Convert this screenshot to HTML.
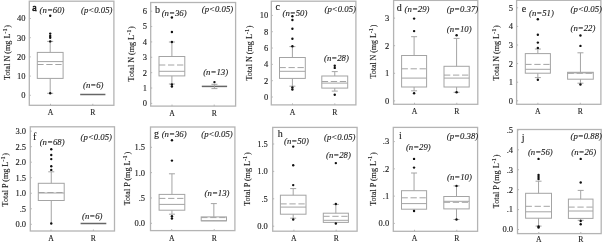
<!DOCTYPE html>
<html><head><meta charset="utf-8"><style>
html,body{margin:0;padding:0;background:#fff;}
svg{display:block;filter:grayscale(1);}
text{font-family:"Liberation Serif",serif;fill:#1a1a1a;stroke:#1a1a1a;stroke-width:0.12px;}
.t{font-size:8.5px;}
.a{font-size:8.75px;font-style:italic;}
.l{font-size:10px;}
.lb{stroke-width:0.6px;}
.x{font-size:7.7px;}
</style></head><body>
<svg width="602" height="242" viewBox="0 0 602 242">
<rect width="602" height="242" fill="#fff"/>
<rect x="29.3" y="1.2" width="84.6" height="104.1" fill="none" stroke="#b4b4b4" stroke-width="1.3"/>
<line x1="29.3" x2="30.8" y1="95.3" y2="95.3" stroke="#b4b4b4" stroke-width="1"/>
<text x="25.6" y="98.2" text-anchor="end" class="t">0</text>
<line x1="29.3" x2="30.8" y1="76.1" y2="76.1" stroke="#b4b4b4" stroke-width="1"/>
<text x="25.6" y="79" text-anchor="end" class="t">10</text>
<line x1="29.3" x2="30.8" y1="56.9" y2="56.9" stroke="#b4b4b4" stroke-width="1"/>
<text x="25.6" y="59.8" text-anchor="end" class="t">20</text>
<line x1="29.3" x2="30.8" y1="37.7" y2="37.7" stroke="#b4b4b4" stroke-width="1"/>
<text x="25.6" y="40.6" text-anchor="end" class="t">30</text>
<line x1="29.3" x2="30.8" y1="18.5" y2="18.5" stroke="#b4b4b4" stroke-width="1"/>
<text x="25.6" y="21.4" text-anchor="end" class="t">40</text>
<rect x="37.3" y="52.4" width="25.8" height="26" fill="none" stroke="#a4a4a4" stroke-width="1.0"/>
<line x1="37.3" x2="63.1" y1="61.6" y2="61.6" stroke="#a4a4a4" stroke-width="1.0"/>
<line x1="37.3" x2="63.1" y1="64.5" y2="64.5" stroke="#a4a4a4" stroke-width="1.0" stroke-dasharray="6.3 2.7"/>
<line x1="50.2" x2="50.2" y1="41.4" y2="52.4" stroke="#a4a4a4" stroke-width="1.0"/>
<line x1="50.2" x2="50.2" y1="78.4" y2="93.3" stroke="#a4a4a4" stroke-width="1.0"/>
<line x1="47.2" x2="53.2" y1="41.4" y2="41.4" stroke="#a4a4a4" stroke-width="1.0"/>
<line x1="47.2" x2="53.2" y1="93.3" y2="93.3" stroke="#a4a4a4" stroke-width="1.0"/>
<circle cx="50.2" cy="15.8" r="1.2" fill="#111"/>
<circle cx="50.2" cy="33.6" r="1.2" fill="#111"/>
<circle cx="50.2" cy="36" r="1.2" fill="#111"/>
<circle cx="50.2" cy="37.8" r="1.2" fill="#111"/>
<circle cx="50.2" cy="41.4" r="1.2" fill="#111"/>
<circle cx="50.2" cy="93.3" r="1.2" fill="#111"/>
<line x1="80.2" x2="105.4" y1="94.5" y2="94.5" stroke="#666" stroke-width="1.5"/>
<text x="32.3" y="10.7" class="l lb">a</text>
<text x="39.6" y="13.2" class="a">(n=60)</text>
<text x="81" y="12.8" class="a">(p<0.05)</text>
<text x="83" y="88" class="a">(n=6)</text>
<line x1="50.5" x2="50.5" y1="103.8" y2="105.3" stroke="#b4b4b4" stroke-width="1"/>
<line x1="92.8" x2="92.8" y1="103.8" y2="105.3" stroke="#b4b4b4" stroke-width="1"/>
<text x="50.5" y="115" text-anchor="middle" class="x">A</text>
<text x="92.8" y="115" text-anchor="middle" class="x">R</text>
<text transform="translate(9.8,52.5) rotate(-90)" text-anchor="middle" style="font-size:8.1px">Total N (mg L<tspan dy="-3.3" font-size="6.3">-1</tspan><tspan dy="3.3" dx="0.8">)</tspan></text>
<rect x="150.7" y="2.5" width="84.9" height="103.6" fill="none" stroke="#b4b4b4" stroke-width="1.3"/>
<line x1="150.7" x2="152.2" y1="103.4" y2="103.4" stroke="#b4b4b4" stroke-width="1"/>
<text x="147.1" y="106.3" text-anchor="end" class="t">0</text>
<line x1="150.7" x2="152.2" y1="88.03" y2="88.03" stroke="#b4b4b4" stroke-width="1"/>
<text x="147.1" y="90.93" text-anchor="end" class="t">1</text>
<line x1="150.7" x2="152.2" y1="72.66" y2="72.66" stroke="#b4b4b4" stroke-width="1"/>
<text x="147.1" y="75.56" text-anchor="end" class="t">2</text>
<line x1="150.7" x2="152.2" y1="57.29" y2="57.29" stroke="#b4b4b4" stroke-width="1"/>
<text x="147.1" y="60.19" text-anchor="end" class="t">3</text>
<line x1="150.7" x2="152.2" y1="41.92" y2="41.92" stroke="#b4b4b4" stroke-width="1"/>
<text x="147.1" y="44.82" text-anchor="end" class="t">4</text>
<line x1="150.7" x2="152.2" y1="26.55" y2="26.55" stroke="#b4b4b4" stroke-width="1"/>
<text x="147.1" y="29.45" text-anchor="end" class="t">5</text>
<line x1="150.7" x2="152.2" y1="11.18" y2="11.18" stroke="#b4b4b4" stroke-width="1"/>
<text x="147.1" y="14.08" text-anchor="end" class="t">6</text>
<rect x="159" y="56.5" width="25.8" height="19.4" fill="none" stroke="#a4a4a4" stroke-width="1.0"/>
<line x1="159" x2="184.8" y1="71.3" y2="71.3" stroke="#a4a4a4" stroke-width="1.0"/>
<line x1="159" x2="184.8" y1="65" y2="65" stroke="#a4a4a4" stroke-width="1.0" stroke-dasharray="6.3 2.7"/>
<line x1="171.9" x2="171.9" y1="42" y2="56.5" stroke="#a4a4a4" stroke-width="1.0"/>
<line x1="171.9" x2="171.9" y1="75.9" y2="84" stroke="#a4a4a4" stroke-width="1.0"/>
<line x1="168.9" x2="174.9" y1="42" y2="42" stroke="#a4a4a4" stroke-width="1.0"/>
<line x1="168.9" x2="174.9" y1="84" y2="84" stroke="#a4a4a4" stroke-width="1.0"/>
<circle cx="171.9" cy="17.5" r="1.2" fill="#111"/>
<circle cx="171.9" cy="32" r="1.2" fill="#111"/>
<circle cx="171.9" cy="42" r="1.2" fill="#111"/>
<circle cx="171.9" cy="84.5" r="1.2" fill="#111"/>
<circle cx="171.9" cy="86.5" r="1.2" fill="#111"/>
<line x1="201.8" x2="227.1" y1="86.4" y2="86.4" stroke="#666" stroke-width="1.5"/>
<line x1="214.45" x2="214.45" y1="84.3" y2="86.4" stroke="#a4a4a4" stroke-width="1.0"/>
<line x1="214.45" x2="214.45" y1="86.4" y2="88.6" stroke="#a4a4a4" stroke-width="1.0"/>
<line x1="211.45" x2="217.45" y1="84.3" y2="84.3" stroke="#a4a4a4" stroke-width="1.0"/>
<line x1="211.45" x2="217.45" y1="88.6" y2="88.6" stroke="#a4a4a4" stroke-width="1.0"/>
<circle cx="214.45" cy="82.1" r="1.2" fill="#111"/>
<text x="155" y="12.6" class="l">b</text>
<text x="161.7" y="15.5" class="a">(n=36)</text>
<text x="201.8" y="11.8" class="a">(p<0.05)</text>
<text x="203.2" y="74.5" class="a">(n=13)</text>
<line x1="172" x2="172" y1="104.6" y2="106.1" stroke="#b4b4b4" stroke-width="1"/>
<line x1="214.2" x2="214.2" y1="104.6" y2="106.1" stroke="#b4b4b4" stroke-width="1"/>
<text x="172" y="115.8" text-anchor="middle" class="x">A</text>
<text x="214.2" y="115.8" text-anchor="middle" class="x">R</text>
<text transform="translate(133.8,53.8) rotate(-90)" text-anchor="middle" style="font-size:8.1px">Total N (mg L<tspan dy="-3.3" font-size="6.3">-1</tspan><tspan dy="3.3" dx="0.8">)</tspan></text>
<rect x="271.3" y="1.2" width="84.6" height="103.7" fill="none" stroke="#b4b4b4" stroke-width="1.3"/>
<line x1="271.3" x2="272.8" y1="97" y2="97" stroke="#b4b4b4" stroke-width="1"/>
<text x="268.2" y="99.9" text-anchor="end" class="t">0</text>
<line x1="271.3" x2="272.8" y1="80.68" y2="80.68" stroke="#b4b4b4" stroke-width="1"/>
<text x="268.2" y="83.58" text-anchor="end" class="t">2</text>
<line x1="271.3" x2="272.8" y1="64.36" y2="64.36" stroke="#b4b4b4" stroke-width="1"/>
<text x="268.2" y="67.26" text-anchor="end" class="t">4</text>
<line x1="271.3" x2="272.8" y1="48.04" y2="48.04" stroke="#b4b4b4" stroke-width="1"/>
<text x="268.2" y="50.94" text-anchor="end" class="t">6</text>
<line x1="271.3" x2="272.8" y1="31.72" y2="31.72" stroke="#b4b4b4" stroke-width="1"/>
<text x="268.2" y="34.62" text-anchor="end" class="t">8</text>
<line x1="271.3" x2="272.8" y1="15.4" y2="15.4" stroke="#b4b4b4" stroke-width="1"/>
<text x="268.2" y="18.3" text-anchor="end" class="t">10</text>
<rect x="279.5" y="57.5" width="25.8" height="20.9" fill="none" stroke="#a4a4a4" stroke-width="1.0"/>
<line x1="279.5" x2="305.3" y1="71.3" y2="71.3" stroke="#a4a4a4" stroke-width="1.0"/>
<line x1="279.5" x2="305.3" y1="67.6" y2="67.6" stroke="#a4a4a4" stroke-width="1.0" stroke-dasharray="6.3 2.7"/>
<line x1="292.4" x2="292.4" y1="46.6" y2="57.5" stroke="#a4a4a4" stroke-width="1.0"/>
<line x1="292.4" x2="292.4" y1="78.4" y2="86.2" stroke="#a4a4a4" stroke-width="1.0"/>
<line x1="289.4" x2="295.4" y1="46.6" y2="46.6" stroke="#a4a4a4" stroke-width="1.0"/>
<line x1="289.4" x2="295.4" y1="86.2" y2="86.2" stroke="#a4a4a4" stroke-width="1.0"/>
<circle cx="292.4" cy="16.3" r="1.2" fill="#111"/>
<circle cx="292.4" cy="20" r="1.2" fill="#111"/>
<circle cx="292.4" cy="28.8" r="1.2" fill="#111"/>
<circle cx="292.4" cy="38.7" r="1.2" fill="#111"/>
<circle cx="292.4" cy="46.3" r="1.2" fill="#111"/>
<circle cx="292.4" cy="87.5" r="1.2" fill="#111"/>
<circle cx="292.4" cy="89.5" r="1.2" fill="#111"/>
<rect x="321.8" y="76" width="25.9" height="12.1" fill="none" stroke="#a4a4a4" stroke-width="1.0"/>
<line x1="321.8" x2="347.7" y1="83.1" y2="83.1" stroke="#a4a4a4" stroke-width="1.0"/>
<line x1="321.8" x2="347.7" y1="81.5" y2="81.5" stroke="#a4a4a4" stroke-width="1.0" stroke-dasharray="6.3 2.7"/>
<line x1="334.75" x2="334.75" y1="71.6" y2="76" stroke="#a4a4a4" stroke-width="1.0"/>
<line x1="334.75" x2="334.75" y1="88.1" y2="91.1" stroke="#a4a4a4" stroke-width="1.0"/>
<line x1="331.75" x2="337.75" y1="71.6" y2="71.6" stroke="#a4a4a4" stroke-width="1.0"/>
<line x1="331.75" x2="337.75" y1="91.1" y2="91.1" stroke="#a4a4a4" stroke-width="1.0"/>
<circle cx="334.75" cy="65.8" r="1.2" fill="#111"/>
<circle cx="334.75" cy="67.9" r="1.2" fill="#111"/>
<circle cx="334.75" cy="94.7" r="1.2" fill="#111"/>
<text x="275.6" y="10.4" class="l">c</text>
<text x="282.5" y="15.5" class="a">(n=50)</text>
<text x="324.5" y="11.8" class="a">(p<0.05)</text>
<text x="324" y="61" class="a">(n=28)</text>
<line x1="292.5" x2="292.5" y1="103.4" y2="104.9" stroke="#b4b4b4" stroke-width="1"/>
<line x1="334.8" x2="334.8" y1="103.4" y2="104.9" stroke="#b4b4b4" stroke-width="1"/>
<text x="292.5" y="114.8" text-anchor="middle" class="x">A</text>
<text x="334.8" y="114.8" text-anchor="middle" class="x">R</text>
<text transform="translate(251.9,53) rotate(-90)" text-anchor="middle" style="font-size:8.1px">Total N (mg L<tspan dy="-3.3" font-size="6.3">-1</tspan><tspan dy="3.3" dx="0.8">)</tspan></text>
<rect x="393.6" y="0.4" width="84.2" height="103.9" fill="none" stroke="#b4b4b4" stroke-width="1.3"/>
<line x1="393.6" x2="395.1" y1="100.9" y2="100.9" stroke="#b4b4b4" stroke-width="1"/>
<text x="389.3" y="103.8" text-anchor="end" class="t">0</text>
<line x1="393.6" x2="395.1" y1="73.3" y2="73.3" stroke="#b4b4b4" stroke-width="1"/>
<text x="389.3" y="76.2" text-anchor="end" class="t">1</text>
<line x1="393.6" x2="395.1" y1="45.7" y2="45.7" stroke="#b4b4b4" stroke-width="1"/>
<text x="389.3" y="48.6" text-anchor="end" class="t">2</text>
<line x1="393.6" x2="395.1" y1="18.1" y2="18.1" stroke="#b4b4b4" stroke-width="1"/>
<text x="389.3" y="21" text-anchor="end" class="t">3</text>
<rect x="401.6" y="55.5" width="25" height="31.5" fill="none" stroke="#a4a4a4" stroke-width="1.0"/>
<line x1="401.6" x2="426.6" y1="78.1" y2="78.1" stroke="#a4a4a4" stroke-width="1.0"/>
<line x1="401.6" x2="426.6" y1="68.8" y2="68.8" stroke="#a4a4a4" stroke-width="1.0" stroke-dasharray="6.3 2.7"/>
<line x1="414.1" x2="414.1" y1="36.7" y2="55.5" stroke="#a4a4a4" stroke-width="1.0"/>
<line x1="414.1" x2="414.1" y1="87" y2="90.8" stroke="#a4a4a4" stroke-width="1.0"/>
<line x1="411.1" x2="417.1" y1="36.7" y2="36.7" stroke="#a4a4a4" stroke-width="1.0"/>
<line x1="411.1" x2="417.1" y1="90.8" y2="90.8" stroke="#a4a4a4" stroke-width="1.0"/>
<circle cx="414.1" cy="18.6" r="1.2" fill="#111"/>
<circle cx="414.1" cy="31.1" r="1.2" fill="#111"/>
<circle cx="414.1" cy="93.3" r="1.2" fill="#111"/>
<rect x="444" y="66.3" width="25.2" height="20.7" fill="none" stroke="#a4a4a4" stroke-width="1.0"/>
<line x1="444" x2="469.2" y1="78.1" y2="78.1" stroke="#a4a4a4" stroke-width="1.0"/>
<line x1="444" x2="469.2" y1="75.1" y2="75.1" stroke="#a4a4a4" stroke-width="1.0" stroke-dasharray="6.3 2.7"/>
<line x1="456.6" x2="456.6" y1="38.4" y2="66.3" stroke="#a4a4a4" stroke-width="1.0"/>
<line x1="456.6" x2="456.6" y1="87" y2="92.3" stroke="#a4a4a4" stroke-width="1.0"/>
<line x1="453.6" x2="459.6" y1="38.4" y2="38.4" stroke="#a4a4a4" stroke-width="1.0"/>
<line x1="453.6" x2="459.6" y1="92.3" y2="92.3" stroke="#a4a4a4" stroke-width="1.0"/>
<circle cx="456.6" cy="35.2" r="1.2" fill="#111"/>
<circle cx="456.6" cy="92.3" r="1.2" fill="#111"/>
<text x="396.7" y="11" class="l">d</text>
<text x="404.6" y="12.3" class="a">(n=29)</text>
<text x="446.8" y="12" class="a">(p=0.37)</text>
<text x="446.8" y="31.5" class="a">(n=10)</text>
<line x1="414.5" x2="414.5" y1="102.8" y2="104.3" stroke="#b4b4b4" stroke-width="1"/>
<line x1="456.8" x2="456.8" y1="102.8" y2="104.3" stroke="#b4b4b4" stroke-width="1"/>
<text x="414.5" y="113.8" text-anchor="middle" class="x">A</text>
<text x="456.8" y="113.8" text-anchor="middle" class="x">R</text>
<text transform="translate(376.2,51.5) rotate(-90)" text-anchor="middle" style="font-size:7.9px">Total N (mg L<tspan dy="-3.3" font-size="6.3">-1</tspan><tspan dy="3.3" dx="0.8">)</tspan></text>
<rect x="516.6" y="0.3" width="84.3" height="104" fill="none" stroke="#b4b4b4" stroke-width="1.3"/>
<line x1="516.6" x2="518.1" y1="100.8" y2="100.8" stroke="#b4b4b4" stroke-width="1"/>
<text x="513" y="103.7" text-anchor="end" class="t">0</text>
<line x1="516.6" x2="518.1" y1="82.2" y2="82.2" stroke="#b4b4b4" stroke-width="1"/>
<text x="513" y="85.1" text-anchor="end" class="t">1</text>
<line x1="516.6" x2="518.1" y1="63.6" y2="63.6" stroke="#b4b4b4" stroke-width="1"/>
<text x="513" y="66.5" text-anchor="end" class="t">2</text>
<line x1="516.6" x2="518.1" y1="45" y2="45" stroke="#b4b4b4" stroke-width="1"/>
<text x="513" y="47.9" text-anchor="end" class="t">3</text>
<line x1="516.6" x2="518.1" y1="26.4" y2="26.4" stroke="#b4b4b4" stroke-width="1"/>
<text x="513" y="29.3" text-anchor="end" class="t">4</text>
<line x1="516.6" x2="518.1" y1="7.8" y2="7.8" stroke="#b4b4b4" stroke-width="1"/>
<text x="513" y="10.7" text-anchor="end" class="t">5</text>
<rect x="525.3" y="53.6" width="25.1" height="19.6" fill="none" stroke="#a4a4a4" stroke-width="1.0"/>
<line x1="525.3" x2="550.4" y1="69.3" y2="69.3" stroke="#a4a4a4" stroke-width="1.0"/>
<line x1="525.3" x2="550.4" y1="64.4" y2="64.4" stroke="#a4a4a4" stroke-width="1.0" stroke-dasharray="6.3 2.7"/>
<line x1="537.85" x2="537.85" y1="49" y2="53.6" stroke="#a4a4a4" stroke-width="1.0"/>
<line x1="537.85" x2="537.85" y1="73.2" y2="77.6" stroke="#a4a4a4" stroke-width="1.0"/>
<line x1="534.85" x2="540.85" y1="49" y2="49" stroke="#a4a4a4" stroke-width="1.0"/>
<line x1="534.85" x2="540.85" y1="77.6" y2="77.6" stroke="#a4a4a4" stroke-width="1.0"/>
<circle cx="537.85" cy="19.3" r="1.2" fill="#111"/>
<circle cx="537.85" cy="34.7" r="1.2" fill="#111"/>
<circle cx="537.85" cy="42.6" r="1.2" fill="#111"/>
<circle cx="537.85" cy="47.9" r="1.2" fill="#111"/>
<circle cx="537.85" cy="79.7" r="1.2" fill="#111"/>
<rect x="567.6" y="72.3" width="25.7" height="6.9" fill="none" stroke="#a4a4a4" stroke-width="1.0"/>
<line x1="567.6" x2="593.3" y1="72.9" y2="72.9" stroke="#a4a4a4" stroke-width="1.0"/>
<line x1="567.6" x2="593.3" y1="73.3" y2="73.3" stroke="#a4a4a4" stroke-width="1.0" stroke-dasharray="6.3 2.7"/>
<line x1="580.45" x2="580.45" y1="52.8" y2="72.3" stroke="#a4a4a4" stroke-width="1.0"/>
<line x1="580.45" x2="580.45" y1="79.2" y2="83.2" stroke="#a4a4a4" stroke-width="1.0"/>
<line x1="577.45" x2="583.45" y1="52.8" y2="52.8" stroke="#a4a4a4" stroke-width="1.0"/>
<line x1="577.45" x2="583.45" y1="83.2" y2="83.2" stroke="#a4a4a4" stroke-width="1.0"/>
<circle cx="580.45" cy="35.5" r="1.2" fill="#111"/>
<circle cx="580.45" cy="45.9" r="1.2" fill="#111"/>
<circle cx="580.45" cy="84.5" r="1.2" fill="#111"/>
<text x="521.7" y="11.7" class="l">e</text>
<text x="529" y="15.5" class="a">(n=51)</text>
<text x="570.6" y="11.8" class="a">(p<0.05)</text>
<text x="570.5" y="30.5" class="a">(n=22)</text>
<line x1="537.9" x2="537.9" y1="102.8" y2="104.3" stroke="#b4b4b4" stroke-width="1"/>
<line x1="580.3" x2="580.3" y1="102.8" y2="104.3" stroke="#b4b4b4" stroke-width="1"/>
<text x="537.9" y="114.2" text-anchor="middle" class="x">A</text>
<text x="580.3" y="114.2" text-anchor="middle" class="x">R</text>
<text transform="translate(499.4,52.8) rotate(-90)" text-anchor="middle" style="font-size:8.1px">Total N (mg L<tspan dy="-3.3" font-size="6.3">-1</tspan><tspan dy="3.3" dx="0.8">)</tspan></text>
<rect x="30.3" y="126.8" width="84.2" height="104.2" fill="none" stroke="#b4b4b4" stroke-width="1.3"/>
<line x1="30.3" x2="31.8" y1="224.3" y2="224.3" stroke="#b4b4b4" stroke-width="1"/>
<text x="26.1" y="227.2" text-anchor="end" class="t">0.0</text>
<line x1="30.3" x2="31.8" y1="208.78" y2="208.78" stroke="#b4b4b4" stroke-width="1"/>
<text x="26.1" y="211.68" text-anchor="end" class="t">.5</text>
<line x1="30.3" x2="31.8" y1="193.25" y2="193.25" stroke="#b4b4b4" stroke-width="1"/>
<text x="26.1" y="196.15" text-anchor="end" class="t">1.0</text>
<line x1="30.3" x2="31.8" y1="177.73" y2="177.73" stroke="#b4b4b4" stroke-width="1"/>
<text x="26.1" y="180.63" text-anchor="end" class="t">1.5</text>
<line x1="30.3" x2="31.8" y1="162.2" y2="162.2" stroke="#b4b4b4" stroke-width="1"/>
<text x="26.1" y="165.1" text-anchor="end" class="t">2.0</text>
<line x1="30.3" x2="31.8" y1="146.68" y2="146.68" stroke="#b4b4b4" stroke-width="1"/>
<text x="26.1" y="149.58" text-anchor="end" class="t">2.5</text>
<line x1="30.3" x2="31.8" y1="131.15" y2="131.15" stroke="#b4b4b4" stroke-width="1"/>
<text x="26.1" y="134.05" text-anchor="end" class="t">3.0</text>
<rect x="38.3" y="183.3" width="25.9" height="17.2" fill="none" stroke="#a4a4a4" stroke-width="1.0"/>
<line x1="38.3" x2="64.2" y1="193" y2="193" stroke="#a4a4a4" stroke-width="1.0"/>
<line x1="38.3" x2="64.2" y1="192.5" y2="192.5" stroke="#a4a4a4" stroke-width="1.0" stroke-dasharray="6.3 2.7"/>
<line x1="51.25" x2="51.25" y1="171.8" y2="183.3" stroke="#a4a4a4" stroke-width="1.0"/>
<line x1="51.25" x2="51.25" y1="200.5" y2="223" stroke="#a4a4a4" stroke-width="1.0"/>
<line x1="48.25" x2="54.25" y1="171.8" y2="171.8" stroke="#a4a4a4" stroke-width="1.0"/>
<circle cx="51.25" cy="149.2" r="1.2" fill="#111"/>
<circle cx="51.25" cy="155" r="1.2" fill="#111"/>
<circle cx="51.25" cy="159.1" r="1.2" fill="#111"/>
<circle cx="51.25" cy="166.2" r="1.2" fill="#111"/>
<circle cx="51.25" cy="169.9" r="1.2" fill="#111"/>
<circle cx="51.25" cy="223.5" r="1.2" fill="#111"/>
<line x1="80.6" x2="106.3" y1="223.5" y2="223.5" stroke="#666" stroke-width="1.5"/>
<text x="33" y="140.3" class="l">f</text>
<text x="39.7" y="144.8" class="a">(n=68)</text>
<text x="80.6" y="139.8" class="a">(p<0.05)</text>
<text x="82" y="218.6" class="a">(n=6)</text>
<line x1="51" x2="51" y1="229.5" y2="231" stroke="#b4b4b4" stroke-width="1"/>
<line x1="93.4" x2="93.4" y1="229.5" y2="231" stroke="#b4b4b4" stroke-width="1"/>
<text x="51" y="241" text-anchor="middle" class="x">A</text>
<text x="93.4" y="241" text-anchor="middle" class="x">R</text>
<text transform="translate(8,179.7) rotate(-90)" text-anchor="middle" style="font-size:8.1px">Total P (mg L<tspan dy="-3.3" font-size="6.3">-1</tspan><tspan dy="3.3" dx="0.8">)</tspan></text>
<rect x="150.5" y="127" width="84.4" height="103.6" fill="none" stroke="#b4b4b4" stroke-width="1.3"/>
<line x1="150.5" x2="152" y1="223.3" y2="223.3" stroke="#b4b4b4" stroke-width="1"/>
<text x="145" y="226.2" text-anchor="end" class="t">0.0</text>
<line x1="150.5" x2="152" y1="197.97" y2="197.97" stroke="#b4b4b4" stroke-width="1"/>
<text x="145" y="200.87" text-anchor="end" class="t">.5</text>
<line x1="150.5" x2="152" y1="172.63" y2="172.63" stroke="#b4b4b4" stroke-width="1"/>
<text x="145" y="175.53" text-anchor="end" class="t">1.0</text>
<line x1="150.5" x2="152" y1="147.3" y2="147.3" stroke="#b4b4b4" stroke-width="1"/>
<text x="145" y="150.2" text-anchor="end" class="t">1.5</text>
<rect x="159.1" y="194.4" width="25.7" height="15.8" fill="none" stroke="#a4a4a4" stroke-width="1.0"/>
<line x1="159.1" x2="184.8" y1="204.4" y2="204.4" stroke="#a4a4a4" stroke-width="1.0"/>
<line x1="159.1" x2="184.8" y1="198.4" y2="198.4" stroke="#a4a4a4" stroke-width="1.0" stroke-dasharray="6.3 2.7"/>
<line x1="171.95" x2="171.95" y1="173.8" y2="194.4" stroke="#a4a4a4" stroke-width="1.0"/>
<line x1="171.95" x2="171.95" y1="210.2" y2="214.2" stroke="#a4a4a4" stroke-width="1.0"/>
<line x1="168.95" x2="174.95" y1="173.8" y2="173.8" stroke="#a4a4a4" stroke-width="1.0"/>
<line x1="168.95" x2="174.95" y1="214.2" y2="214.2" stroke="#a4a4a4" stroke-width="1.0"/>
<circle cx="171.95" cy="140.3" r="1.2" fill="#111"/>
<circle cx="171.95" cy="160.6" r="1.2" fill="#111"/>
<circle cx="171.95" cy="216.3" r="1.2" fill="#111"/>
<circle cx="171.95" cy="218.5" r="1.2" fill="#111"/>
<rect x="201.2" y="216.9" width="25.3" height="3.9" fill="none" stroke="#a4a4a4" stroke-width="1.0"/>
<line x1="201.2" x2="226.5" y1="220.8" y2="220.8" stroke="#a4a4a4" stroke-width="1.0"/>
<line x1="201.2" x2="226.5" y1="217.6" y2="217.6" stroke="#a4a4a4" stroke-width="1.0" stroke-dasharray="6.3 2.7"/>
<line x1="213.85" x2="213.85" y1="203.6" y2="216.9" stroke="#a4a4a4" stroke-width="1.0"/>
<line x1="213.85" x2="213.85" y1="220.8" y2="221" stroke="#a4a4a4" stroke-width="1.0"/>
<line x1="210.85" x2="216.85" y1="203.6" y2="203.6" stroke="#a4a4a4" stroke-width="1.0"/>
<text x="154" y="137" class="l">g</text>
<text x="161.7" y="137" class="a">(n=36)</text>
<text x="201.3" y="137" class="a">(p<0.05)</text>
<text x="204.6" y="196" class="a">(n=13)</text>
<line x1="171.7" x2="171.7" y1="229.1" y2="230.6" stroke="#b4b4b4" stroke-width="1"/>
<line x1="214.2" x2="214.2" y1="229.1" y2="230.6" stroke="#b4b4b4" stroke-width="1"/>
<text x="171.7" y="241" text-anchor="middle" class="x">A</text>
<text x="214.2" y="241" text-anchor="middle" class="x">R</text>
<text transform="translate(130.3,178.6) rotate(-90)" text-anchor="middle" style="font-size:8.1px">Total P (mg L<tspan dy="-3.3" font-size="6.3">-1</tspan><tspan dy="3.3" dx="0.8">)</tspan></text>
<rect x="272.7" y="127.4" width="84.4" height="103.8" fill="none" stroke="#b4b4b4" stroke-width="1.3"/>
<line x1="272.7" x2="274.2" y1="226.2" y2="226.2" stroke="#b4b4b4" stroke-width="1"/>
<text x="267.8" y="229.1" text-anchor="end" class="t">0.0</text>
<line x1="272.7" x2="274.2" y1="198.8" y2="198.8" stroke="#b4b4b4" stroke-width="1"/>
<text x="267.8" y="201.7" text-anchor="end" class="t">.5</text>
<line x1="272.7" x2="274.2" y1="171.4" y2="171.4" stroke="#b4b4b4" stroke-width="1"/>
<text x="267.8" y="174.3" text-anchor="end" class="t">1.0</text>
<line x1="272.7" x2="274.2" y1="144" y2="144" stroke="#b4b4b4" stroke-width="1"/>
<text x="267.8" y="146.9" text-anchor="end" class="t">1.5</text>
<rect x="280.4" y="195.2" width="25.6" height="19" fill="none" stroke="#a4a4a4" stroke-width="1.0"/>
<line x1="280.4" x2="306" y1="207.1" y2="207.1" stroke="#a4a4a4" stroke-width="1.0"/>
<line x1="280.4" x2="306" y1="203.9" y2="203.9" stroke="#a4a4a4" stroke-width="1.0" stroke-dasharray="6.3 2.7"/>
<line x1="293.2" x2="293.2" y1="188.6" y2="195.2" stroke="#a4a4a4" stroke-width="1.0"/>
<line x1="293.2" x2="293.2" y1="214.2" y2="218.2" stroke="#a4a4a4" stroke-width="1.0"/>
<line x1="290.2" x2="296.2" y1="188.6" y2="188.6" stroke="#a4a4a4" stroke-width="1.0"/>
<line x1="290.2" x2="296.2" y1="218.2" y2="218.2" stroke="#a4a4a4" stroke-width="1.0"/>
<circle cx="293.2" cy="146.6" r="1.2" fill="#111"/>
<circle cx="293.2" cy="165.2" r="1.2" fill="#111"/>
<circle cx="293.2" cy="185.1" r="1.2" fill="#111"/>
<circle cx="293.2" cy="219.5" r="1.2" fill="#111"/>
<rect x="323.3" y="213.2" width="25.1" height="9.2" fill="none" stroke="#a4a4a4" stroke-width="1.0"/>
<line x1="323.3" x2="348.4" y1="220.3" y2="220.3" stroke="#a4a4a4" stroke-width="1.0"/>
<line x1="323.3" x2="348.4" y1="216.3" y2="216.3" stroke="#a4a4a4" stroke-width="1.0" stroke-dasharray="6.3 2.7"/>
<line x1="335.85" x2="335.85" y1="204.4" y2="213.2" stroke="#a4a4a4" stroke-width="1.0"/>
<line x1="335.85" x2="335.85" y1="222.4" y2="223" stroke="#a4a4a4" stroke-width="1.0"/>
<line x1="332.85" x2="338.85" y1="204.4" y2="204.4" stroke="#a4a4a4" stroke-width="1.0"/>
<circle cx="335.85" cy="163.1" r="1.2" fill="#111"/>
<circle cx="335.85" cy="204" r="1.2" fill="#111"/>
<circle cx="335.85" cy="223.5" r="1.2" fill="#111"/>
<text x="277.7" y="137.2" class="l">h</text>
<text x="284" y="143.6" class="a">(n=50)</text>
<text x="324" y="139.5" class="a">(p<0.05)</text>
<text x="326" y="158.3" class="a">(n=28)</text>
<line x1="293.9" x2="293.9" y1="229.7" y2="231.2" stroke="#b4b4b4" stroke-width="1"/>
<line x1="336.2" x2="336.2" y1="229.7" y2="231.2" stroke="#b4b4b4" stroke-width="1"/>
<text x="293.9" y="240.5" text-anchor="middle" class="x">A</text>
<text x="336.2" y="240.5" text-anchor="middle" class="x">R</text>
<text transform="translate(250.3,179.1) rotate(-90)" text-anchor="middle" style="font-size:8.1px">Total P (mg L<tspan dy="-3.3" font-size="6.3">-1</tspan><tspan dy="3.3" dx="0.8">)</tspan></text>
<rect x="393.3" y="127.4" width="84.3" height="103.9" fill="none" stroke="#b4b4b4" stroke-width="1.3"/>
<line x1="393.3" x2="394.8" y1="223.4" y2="223.4" stroke="#b4b4b4" stroke-width="1"/>
<text x="389.2" y="226.3" text-anchor="end" class="t">0.0</text>
<line x1="393.3" x2="394.8" y1="196.13" y2="196.13" stroke="#b4b4b4" stroke-width="1"/>
<text x="389.2" y="199.03" text-anchor="end" class="t">.1</text>
<line x1="393.3" x2="394.8" y1="168.86" y2="168.86" stroke="#b4b4b4" stroke-width="1"/>
<text x="389.2" y="171.76" text-anchor="end" class="t">.2</text>
<line x1="393.3" x2="394.8" y1="141.59" y2="141.59" stroke="#b4b4b4" stroke-width="1"/>
<text x="389.2" y="144.49" text-anchor="end" class="t">.3</text>
<rect x="401.5" y="190.7" width="25.1" height="18.5" fill="none" stroke="#a4a4a4" stroke-width="1.0"/>
<line x1="401.5" x2="426.6" y1="203.6" y2="203.6" stroke="#a4a4a4" stroke-width="1.0"/>
<line x1="401.5" x2="426.6" y1="197.8" y2="197.8" stroke="#a4a4a4" stroke-width="1.0" stroke-dasharray="6.3 2.7"/>
<line x1="414.05" x2="414.05" y1="173" y2="190.7" stroke="#a4a4a4" stroke-width="1.0"/>
<line x1="414.05" x2="414.05" y1="209.2" y2="210.5" stroke="#a4a4a4" stroke-width="1.0"/>
<line x1="411.05" x2="417.05" y1="173" y2="173" stroke="#a4a4a4" stroke-width="1.0"/>
<circle cx="414.05" cy="158.9" r="1.2" fill="#111"/>
<circle cx="414.05" cy="167.6" r="1.2" fill="#111"/>
<circle cx="414.05" cy="211" r="1.2" fill="#111"/>
<rect x="443.8" y="196.5" width="25.4" height="12.4" fill="none" stroke="#a4a4a4" stroke-width="1.0"/>
<line x1="443.8" x2="469.2" y1="201.3" y2="201.3" stroke="#a4a4a4" stroke-width="1.0"/>
<line x1="443.8" x2="469.2" y1="202.3" y2="202.3" stroke="#a4a4a4" stroke-width="1.0" stroke-dasharray="6.3 2.7"/>
<line x1="456.5" x2="456.5" y1="185.9" y2="196.5" stroke="#a4a4a4" stroke-width="1.0"/>
<line x1="456.5" x2="456.5" y1="208.9" y2="219.5" stroke="#a4a4a4" stroke-width="1.0"/>
<line x1="453.5" x2="459.5" y1="185.9" y2="185.9" stroke="#a4a4a4" stroke-width="1.0"/>
<line x1="453.5" x2="459.5" y1="219.5" y2="219.5" stroke="#a4a4a4" stroke-width="1.0"/>
<circle cx="456.5" cy="185.9" r="1.2" fill="#111"/>
<circle cx="456.5" cy="219.5" r="1.2" fill="#111"/>
<text x="399" y="138.9" class="l">i</text>
<text x="405.9" y="149.5" class="a">(n=29)</text>
<text x="446.8" y="138.5" class="a">(p=0.38)</text>
<text x="447" y="180" class="a">(n=10)</text>
<line x1="414.5" x2="414.5" y1="229.8" y2="231.3" stroke="#b4b4b4" stroke-width="1"/>
<line x1="456.8" x2="456.8" y1="229.8" y2="231.3" stroke="#b4b4b4" stroke-width="1"/>
<text x="414.5" y="240.5" text-anchor="middle" class="x">A</text>
<text x="456.8" y="240.5" text-anchor="middle" class="x">R</text>
<text transform="translate(375.5,179.1) rotate(-90)" text-anchor="middle" style="font-size:8.1px">Total P (mg L<tspan dy="-3.3" font-size="6.3">-1</tspan><tspan dy="3.3" dx="0.8">)</tspan></text>
<rect x="517.5" y="129.5" width="83.7" height="104.1" fill="none" stroke="#b4b4b4" stroke-width="1.3"/>
<line x1="517.5" x2="519" y1="229.5" y2="229.5" stroke="#b4b4b4" stroke-width="1"/>
<text x="513" y="232.4" text-anchor="end" class="t">0.0</text>
<line x1="517.5" x2="519" y1="209.58" y2="209.58" stroke="#b4b4b4" stroke-width="1"/>
<text x="513" y="212.48" text-anchor="end" class="t">.1</text>
<line x1="517.5" x2="519" y1="189.66" y2="189.66" stroke="#b4b4b4" stroke-width="1"/>
<text x="513" y="192.56" text-anchor="end" class="t">.2</text>
<line x1="517.5" x2="519" y1="169.74" y2="169.74" stroke="#b4b4b4" stroke-width="1"/>
<text x="513" y="172.64" text-anchor="end" class="t">.3</text>
<line x1="517.5" x2="519" y1="149.82" y2="149.82" stroke="#b4b4b4" stroke-width="1"/>
<text x="513" y="152.72" text-anchor="end" class="t">.4</text>
<line x1="517.5" x2="519" y1="129.9" y2="129.9" stroke="#b4b4b4" stroke-width="1"/>
<text x="513" y="132.8" text-anchor="end" class="t">.5</text>
<rect x="525.6" y="193.3" width="25.9" height="24.9" fill="none" stroke="#a4a4a4" stroke-width="1.0"/>
<line x1="525.6" x2="551.5" y1="211.8" y2="211.8" stroke="#a4a4a4" stroke-width="1.0"/>
<line x1="525.6" x2="551.5" y1="206.3" y2="206.3" stroke="#a4a4a4" stroke-width="1.0" stroke-dasharray="6.3 2.7"/>
<line x1="538.55" x2="538.55" y1="181.2" y2="193.3" stroke="#a4a4a4" stroke-width="1.0"/>
<line x1="538.55" x2="538.55" y1="218.2" y2="226.1" stroke="#a4a4a4" stroke-width="1.0"/>
<line x1="535.55" x2="541.55" y1="181.2" y2="181.2" stroke="#a4a4a4" stroke-width="1.0"/>
<line x1="535.55" x2="541.55" y1="226.1" y2="226.1" stroke="#a4a4a4" stroke-width="1.0"/>
<circle cx="538.55" cy="158.9" r="1.2" fill="#111"/>
<circle cx="538.55" cy="175" r="1.2" fill="#111"/>
<circle cx="538.55" cy="177" r="1.2" fill="#111"/>
<circle cx="538.55" cy="179" r="1.2" fill="#111"/>
<circle cx="538.55" cy="226.5" r="1.2" fill="#111"/>
<circle cx="538.55" cy="227.5" r="1.2" fill="#111"/>
<rect x="568.4" y="199.1" width="24.6" height="19.3" fill="none" stroke="#a4a4a4" stroke-width="1.0"/>
<line x1="568.4" x2="593" y1="211" y2="211" stroke="#a4a4a4" stroke-width="1.0"/>
<line x1="568.4" x2="593" y1="207.1" y2="207.1" stroke="#a4a4a4" stroke-width="1.0" stroke-dasharray="6.3 2.7"/>
<line x1="580.7" x2="580.7" y1="190.4" y2="199.1" stroke="#a4a4a4" stroke-width="1.0"/>
<line x1="580.7" x2="580.7" y1="218.4" y2="220.3" stroke="#a4a4a4" stroke-width="1.0"/>
<line x1="577.7" x2="583.7" y1="190.4" y2="190.4" stroke="#a4a4a4" stroke-width="1.0"/>
<line x1="577.7" x2="583.7" y1="220.3" y2="220.3" stroke="#a4a4a4" stroke-width="1.0"/>
<circle cx="580.7" cy="158.9" r="1.2" fill="#111"/>
<circle cx="580.7" cy="182.5" r="1.2" fill="#111"/>
<circle cx="580.7" cy="221" r="1.2" fill="#111"/>
<circle cx="580.7" cy="224.3" r="1.2" fill="#111"/>
<text x="521.7" y="141" class="l">j</text>
<text x="527.9" y="154.6" class="a">(n=56)</text>
<text x="570.5" y="138.5" class="a">(p=0.88)</text>
<text x="571.3" y="154.6" class="a">(n=26)</text>
<line x1="538.8" x2="538.8" y1="232.1" y2="233.6" stroke="#b4b4b4" stroke-width="1"/>
<line x1="580.8" x2="580.8" y1="232.1" y2="233.6" stroke="#b4b4b4" stroke-width="1"/>
<text x="538.8" y="242.3" text-anchor="middle" class="x">A</text>
<text x="580.8" y="242.3" text-anchor="middle" class="x">R</text>
<text transform="translate(499.3,181.4) rotate(-90)" text-anchor="middle" style="font-size:8.1px">Total P (mg L<tspan dy="-3.3" font-size="6.3">-1</tspan><tspan dy="3.3" dx="0.8">)</tspan></text>
</svg>
</body></html>
